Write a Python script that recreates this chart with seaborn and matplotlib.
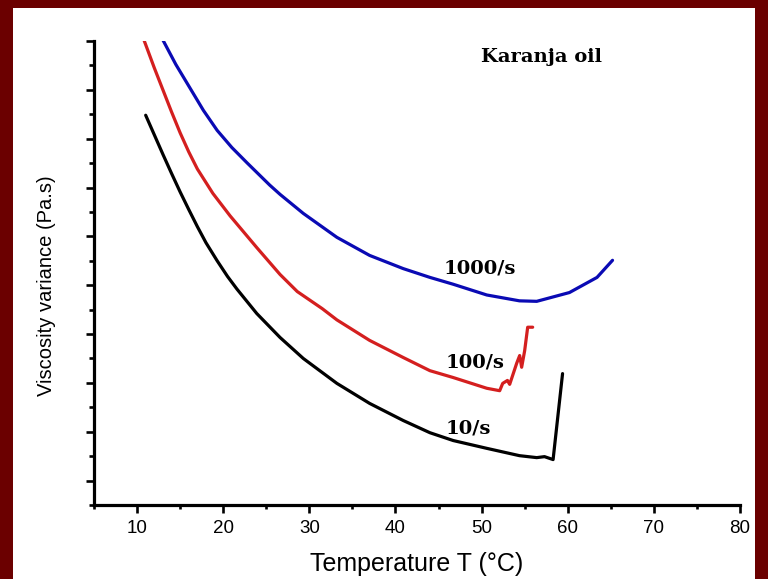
import matplotlib
matplotlib.use("Agg")
import matplotlib.pyplot as plt
import seaborn as sns
import pandas as pd
from matplotlib.patches import Rectangle
from matplotlib.ticker import MultipleLocator

# Data (arbitrary viscosity-variance units)
t_10 = [11.0, 12.0, 13.0, 14.0, 15.0, 16.0, 17.0, 18.0, 19.3, 20.5, 21.6, 23.9, 26.6, 29.3, 33.2, 37.0, 40.9, 44.0, 46.7, 50.6, 54.4, 56.4, 57.3, 58.3, 59.4]
v_10 = [7.48, 7.08, 6.68, 6.29, 5.91, 5.55, 5.20, 4.87, 4.50, 4.18, 3.92, 3.42, 2.93, 2.50, 1.99, 1.58, 1.23, 0.98, 0.82, 0.66, 0.51, 0.47, 0.49, 0.43, 2.19]

t_100 = [10.8, 12.0, 13.0, 14.0, 15.0, 16.0, 17.0, 18.8, 20.8, 23.9, 26.6, 28.6, 31.5, 33.2, 37.0, 40.9, 44.0, 46.7, 50.6, 52.1, 52.45, 53.0, 53.26, 53.6, 54.07, 54.42, 54.65, 55.0, 55.35, 55.93]
v_100 = [9.02, 8.45, 8.00, 7.55, 7.12, 6.73, 6.38, 5.88, 5.42, 4.77, 4.22, 3.87, 3.52, 3.29, 2.87, 2.52, 2.25, 2.11, 1.89, 1.84, 1.99, 2.05, 1.97, 2.15, 2.40, 2.56, 2.32, 2.66, 3.14, 3.14]

t_1000 = [13.0, 14.5, 16.1, 17.7, 19.3, 21.0, 22.8, 25.4, 26.6, 29.3, 33.2, 37.0, 40.9, 44.0, 46.7, 50.6, 54.4, 56.4, 60.2, 63.4, 65.2]
v_1000 = [9.02, 8.52, 8.05, 7.58, 7.17, 6.82, 6.50, 6.05, 5.86, 5.47, 4.98, 4.61, 4.34, 4.16, 4.02, 3.80, 3.68, 3.67, 3.85, 4.16, 4.51]

series_names = ["10/s", "100/s", "1000/s"]
series_colors = ["#000000", "#d41f1f", "#0a0ab4"]
x_ticks = [10, 20, 30, 40, 50, 60, 70, 80]

sns.set_style("white")
plt.rcParams["font.family"] = ["Liberation Sans", "DejaVu Sans"]
plt.rcParams["text.color"] = "black"
plt.rcParams["axes.labelcolor"] = "black"
plt.rcParams["xtick.color"] = "black"
plt.rcParams["ytick.color"] = "black"

W, H = 768, 579
fig = plt.figure(figsize=(W / 100, H / 100), dpi=100, facecolor="#6b0000")
fig.patches.append(Rectangle((13 / W, 0), (755 - 13) / W, (H - 8) / H,
                             transform=fig.transFigure, facecolor="white",
                             edgecolor="none", zorder=-10))
ax = fig.add_axes([94 / W, (H - 505) / H, (740 - 94) / W, (505 - 41) / H])
ax.set_zorder(5)
ax.patch.set_alpha(0)

for name, t, v, c in zip(series_names, [t_10, t_100, t_1000], [v_10, v_100, v_1000], series_colors):
    df = pd.DataFrame({"T": t, "v": v})
    sns.lineplot(data=df, x="T", y="v", sort=False, color=c, linewidth=2.3, ax=ax)

ax.set_xlim(5, 80)
ax.set_ylim(-0.5, 9.0)
ax.set_xticks(x_ticks)
ax.xaxis.set_minor_locator(MultipleLocator(5))
ax.yaxis.set_major_locator(MultipleLocator(1))
ax.yaxis.set_minor_locator(MultipleLocator(0.5))
ax.set_yticklabels([])
ax.tick_params(axis="both", which="major", direction="out", length=6, width=1.9,
               color="black", labelcolor="black", labelsize=13.5, pad=5)
ax.tick_params(axis="both", which="minor", direction="out", length=3.5, width=1.9, color="black")
ax.tick_params(axis="x", which="minor", length=3)
ax.tick_params(axis="y", left=True, which="both")
ax.tick_params(axis="x", bottom=True, which="both")
for s in ["top", "right"]:
    ax.spines[s].set_visible(False)
for s in ["left", "bottom"]:
    ax.spines[s].set_color("black")
    ax.spines[s].set_linewidth(2.3)

ax.set_xlabel("Temperature T (°C)", fontsize=18, color="black")
ax.xaxis.label.set_verticalalignment("center")
ax.xaxis.set_label_coords((417 - 94) / 646, (505 - 564) / 464)
ax.set_ylabel("Viscosity variance (Pa.s)", fontsize=14.5, color="black")
ax.yaxis.label.set_verticalalignment("center")
ax.yaxis.set_label_coords((47 - 94) / 646, (505 - 286) / 464)

serif = ["DejaVu Serif"]
ax.text(57.0, 8.67, "Karanja oil", fontsize=14, fontweight="bold", family=serif, ha="center", va="center", color="black")
ax.text(49.8, 4.34, "1000/s", fontsize=14, fontweight="bold", family=serif, ha="center", va="center", color="black")
ax.text(49.2, 2.42, "100/s", fontsize=14, fontweight="bold", family=serif, ha="center", va="center", color="black")
ax.text(48.4, 1.07, "10/s", fontsize=14, fontweight="bold", family=serif, ha="center", va="center", color="black")

fig.savefig("out.png", dpi=100, facecolor=fig.get_facecolor())
